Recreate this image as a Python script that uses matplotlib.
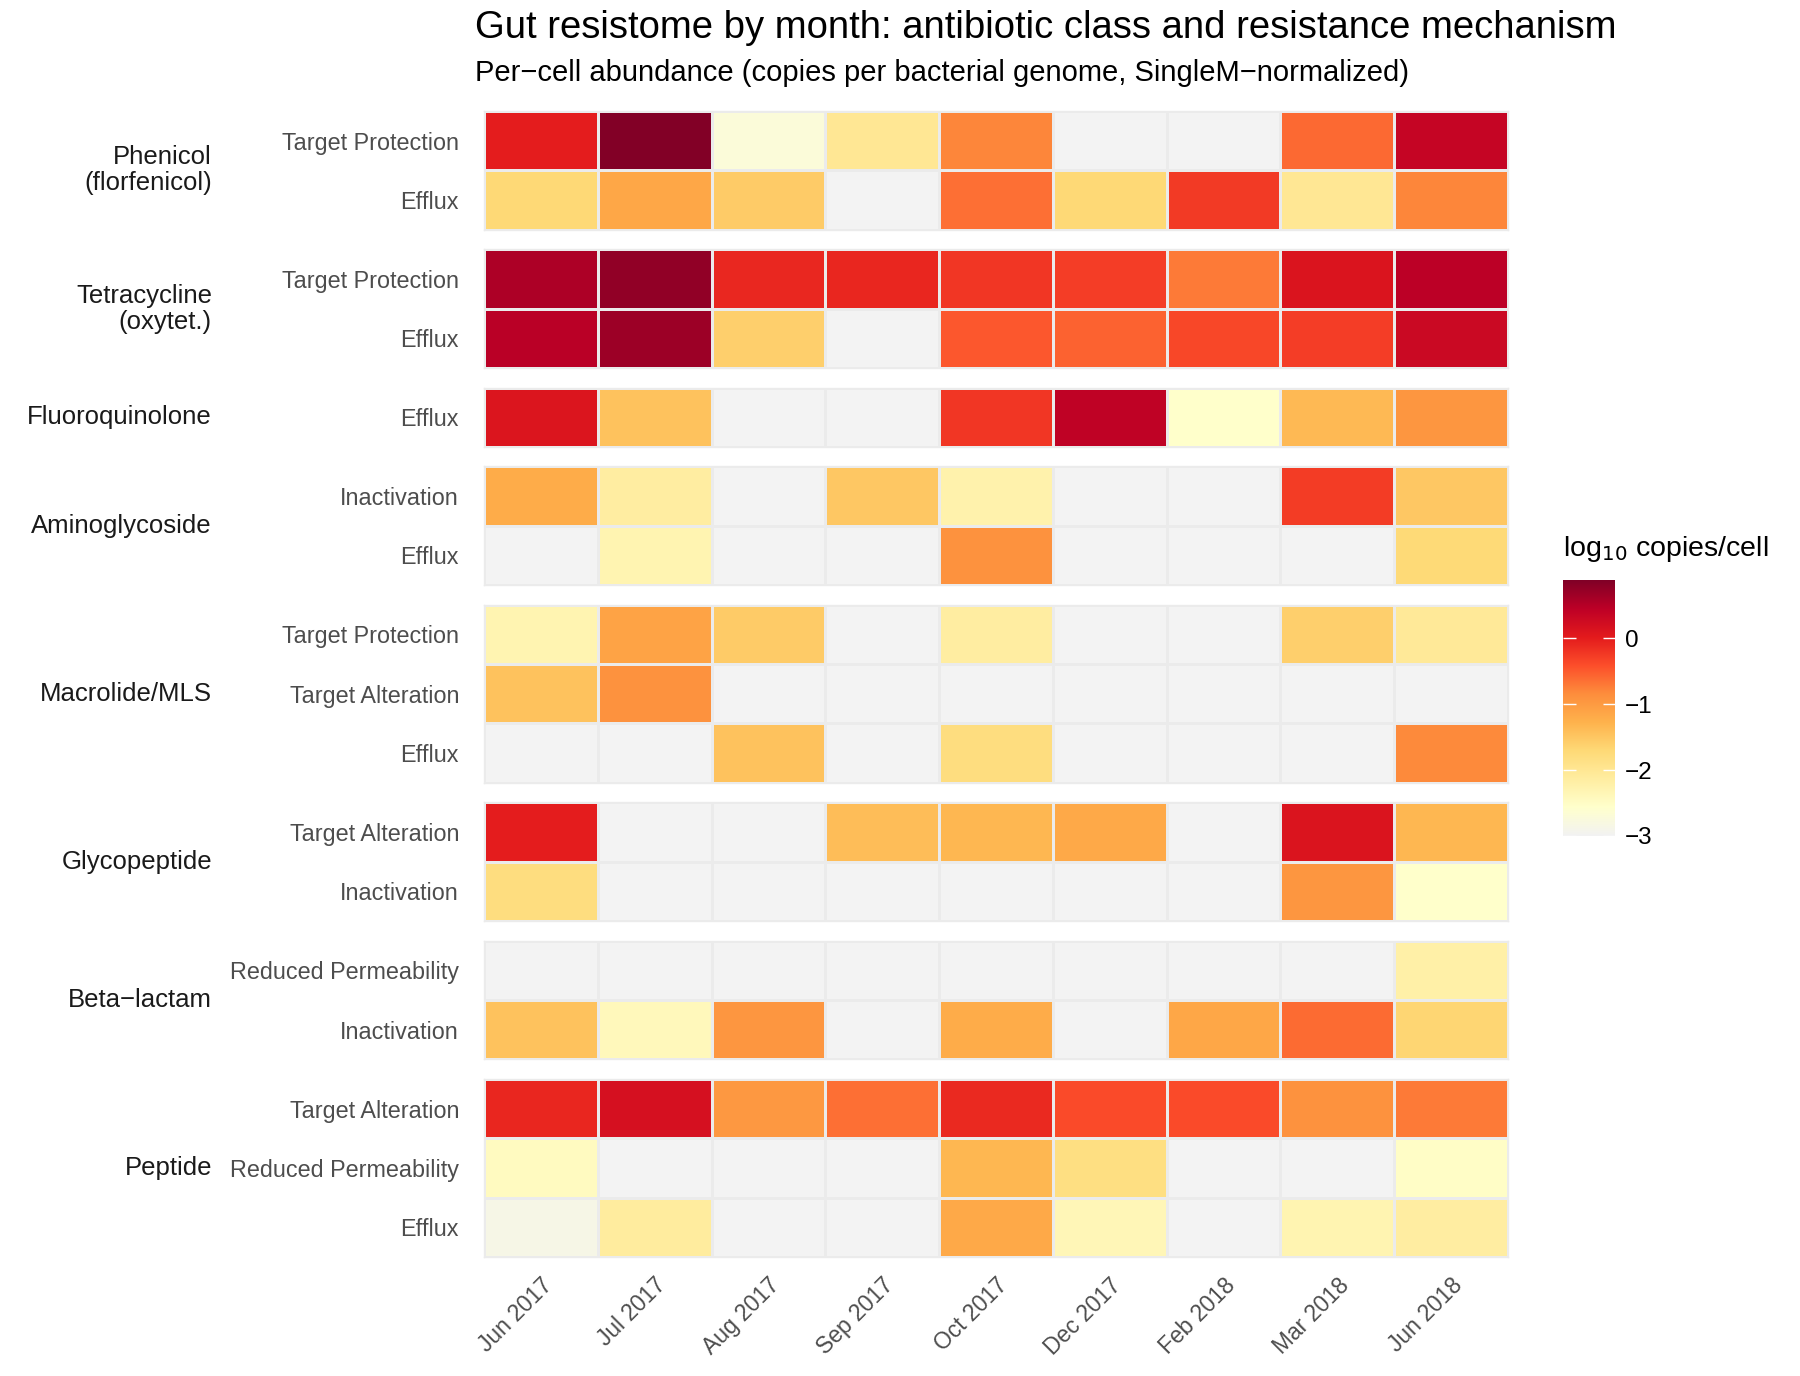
import numpy as np
import matplotlib.pyplot as plt
from matplotlib.colors import LinearSegmentedColormap, Normalize
from matplotlib.cm import ScalarMappable

plt.rcParams['font.family'] = ['Liberation Sans', 'DejaVu Sans']

NA = np.nan

months = ['Jun 2017', 'Jul 2017', 'Aug 2017', 'Sep 2017', 'Oct 2017',
          'Dec 2017', 'Feb 2018', 'Mar 2018', 'Jun 2018']

classes = ['Phenicol\n(florfenicol)', 'Tetracycline\n(oxytet.)', 'Fluoroquinolone',
           'Aminoglycoside', 'Macrolide/MLS', 'Glycopeptide', 'Beta\u2212lactam', 'Peptide']

mechanisms = [
    ['Target Protection', 'Efflux'],
    ['Target Protection', 'Efflux'],
    ['Efflux'],
    ['Inactivation', 'Efflux'],
    ['Target Protection', 'Target Alteration', 'Efflux'],
    ['Target Alteration', 'Inactivation'],
    ['Reduced Permeability', 'Inactivation'],
    ['Target Alteration', 'Reduced Permeability', 'Efflux'],
]

# log10 copies per cell, NA = not detected
phenicol = [
    [0.00, 0.85, -2.70, -2.00, -0.80, NA, NA, -0.60, 0.35],
    [-1.70, -1.15, -1.55, NA, -0.65, -1.70, -0.25, -2.00, -0.80],
]
tetracycline = [
    [0.55, 0.75, -0.10, -0.08, -0.22, -0.28, -0.72, 0.12, 0.45],
    [0.47, 0.68, -1.60, NA, -0.47, -0.55, -0.36, -0.28, 0.30],
]
fluoroquinolone = [
    [0.10, -1.45, NA, NA, -0.22, 0.42, -2.55, -1.35, -0.95],
]
aminoglycoside = [
    [-1.20, -2.14, NA, -1.50, -2.25, NA, NA, -0.26, -1.50],
    [NA, -2.30, NA, NA, -0.90, NA, NA, NA, -1.72],
]
macrolide = [
    [-2.30, -1.10, -1.55, NA, -2.15, NA, NA, -1.60, -2.05],
    [-1.45, -0.90, NA, NA, NA, NA, NA, NA, NA],
    [NA, NA, -1.45, NA, -1.80, NA, NA, NA, -0.82],
]
glycopeptide = [
    [0.00, NA, NA, -1.40, -1.32, -1.18, NA, 0.12, -1.32],
    [-1.80, NA, NA, NA, NA, NA, NA, -0.95, -2.55],
]
betalactam = [
    [NA, NA, NA, NA, NA, NA, NA, NA, -2.20],
    [-1.45, -2.40, -0.95, NA, -1.20, NA, -1.15, -0.62, -1.68],
]
peptide = [
    [-0.08, 0.18, -0.97, -0.65, -0.12, -0.38, -0.38, -0.90, -0.72],
    [-2.45, NA, NA, NA, -1.32, -1.82, NA, NA, -2.50],
    [-2.85, -2.12, NA, NA, -1.18, -2.35, NA, -2.30, -2.15],
]

panels = [phenicol, tetracycline, fluoroquinolone, aminoglycoside,
          macrolide, glycopeptide, betalactam, peptide]

vmin, vmax = -3.0, 0.88
cmap = LinearSegmentedColormap.from_list('resist', [
    '#f2f2f2', '#ffffcc', '#ffeda0', '#fed976', '#feb24c',
    '#fd8d3c', '#fc4e2a', '#e31a1c', '#bd0026', '#800026'])
cmap.set_bad('#f3f3f3')
norm = Normalize(vmin, vmax)

W, H = 1800, 1376
fig = plt.figure(figsize=(W / 100, H / 100), dpi=100)

# layout in pixels
x0, x1 = 484, 1508
top = 111
gap = 19.5
row_h = (1257 - top - gap * (len(panels) - 1)) / 17

y = top
for k, (vals, mech, cls) in enumerate(zip(panels, mechanisms, classes)):
    n = len(vals)
    h = n * row_h
    ax = fig.add_axes([x0 / W, 1 - (y + h) / H, (x1 - x0) / W, h / H])
    arr = np.ma.masked_invalid(np.array(vals, dtype=float))
    ax.pcolormesh(np.arange(len(months) + 1), np.arange(n + 1), arr,
                  cmap=cmap, norm=norm, edgecolors='#ebebeb', linewidth=1.0)
    ax.set_xlim(0, len(months))
    ax.set_ylim(n, 0)
    ax.set_yticks(np.arange(n) + 0.5)
    ax.set_yticklabels(mech, fontsize=16.8, color='#4d4d4d')
    ax.tick_params(length=0, pad=18)
    for s in ax.spines.values():
        s.set_color('#ebebeb')
        s.set_linewidth(1.0)
    if k == len(panels) - 1:
        ax.set_xticks(np.arange(len(months)) + 0.5)
        ax.set_xticklabels(months, rotation=45, ha='right', va='top',
                           rotation_mode='anchor', fontsize=16.5, color='#4d4d4d')
        ax.tick_params(axis='x', pad=12)
    else:
        ax.set_xticks([])
    fig.text(212 / W, 1 - (y + h / 2) / H, cls, ha='right', va='center',
             multialignment='right', fontsize=18.5, color='#1a1a1a', linespacing=1.1)
    y += h + gap

fig.text(475 / W, 1 - 38 / H,
         'Gut resistome by month: antibiotic class and resistance mechanism',
         fontsize=27.5, va='baseline', ha='left', color='black')
fig.text(475 / W, 1 - 81 / H,
         'Per\u2212cell abundance (copies per bacterial genome, SingleM\u2212normalized)',
         fontsize=21, va='baseline', ha='left', color='black')

# colour bar
cax = fig.add_axes([1563 / W, 1 - 836 / H, 52 / W, 256 / H])
cb = fig.colorbar(ScalarMappable(norm=norm, cmap=cmap), cax=cax)
cb.outline.set_visible(False)
cb.set_ticks([-3, -2, -1, 0])
cb.set_ticklabels(['\u22123', '\u22122', '\u22121', '0'])
cax.tick_params(direction='in', color='white', length=9, width=1,
                left=True, right=True, labelsize=17.5, pad=7)
fig.text(1563 / W, 1 - 549 / H, 'log$_{10}$ copies/cell', fontsize=20.5,
         ha='left', va='center', color='black')

fig.savefig('out.png', dpi=100, facecolor='white')
